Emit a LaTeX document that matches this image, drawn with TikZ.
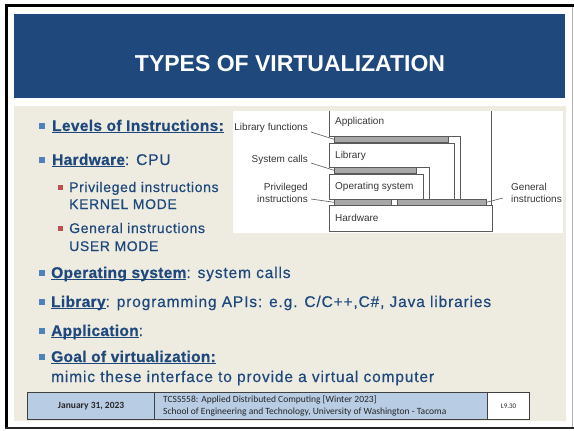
\documentclass[tikz,border=0pt]{standalone}
\usepackage{fontspec}
\setmainfont{Liberation Sans}
\newfontfamily\bodyfont[LetterSpace=5.5, FakeBold=0.5, BoldFeatures={LetterSpace=2, FakeBold=0.6}]{Liberation Sans}
\newfontfamily\subfont[LetterSpace=4.5, FakeBold=0.5]{Liberation Sans}
\newfontfamily\footfont{Carlito}
\usetikzlibrary{calc}

\definecolor{bannerblue}{RGB}{31,73,125}
\definecolor{slidebg}{RGB}{238,236,225}
\definecolor{textblue}{RGB}{31,73,125}
\definecolor{bulletblue}{RGB}{79,129,189}
\definecolor{bulletred}{RGB}{192,80,77}
\definecolor{footblue}{RGB}{184,204,228}
\definecolor{bargray}{RGB}{168,168,168}
\definecolor{figline}{RGB}{90,90,90}
\definecolor{figtext}{RGB}{55,55,55}

\newcommand{\ulhead}[1]{\underline{\smash{\bfseries #1}}}

\begin{document}
\begin{tikzpicture}[x=1pt, y=-1pt, every node/.style={inner sep=0pt},
    mainbullet/.style={fill=bulletblue, minimum size=6pt},
    subbullet/.style={fill=bulletred, minimum size=5pt},
    mainpt/.style={anchor=base west, text=textblue, font=\bodyfont\fontsize{15.5}{18}\selectfont},
    subpt/.style={anchor=base west, text=textblue, font=\subfont\fontsize{14}{17}\selectfont},
    boxline/.style={draw=figline, line width=0.7pt},
    ifacebar/.style={draw=figline, fill=bargray, line width=0.6pt, minimum height=6pt, anchor=north west},
    figlbl/.style={text=figtext, font=\fontsize{10}{11.5}\selectfont},
    leaderline/.style={draw=figline, line width=0.6pt},
    footcell/.style={draw=black!75, line width=1.2pt, minimum height=27pt, anchor=north west}]
    \useasboundingbox (0,0) rectangle (574,431);

    % Slide background and frame
    \fill[white] (0,0) rectangle (574,431);
    \fill[black] (5,4) rectangle (574,7);
    \fill[black] (5,4) rectangle (8,429);
    \fill[black!85] (5,427) rectangle (574,429);
    \fill[black!30] (571.5,7) rectangle (572.5,427);
    \fill[bannerblue] (14,14) rectangle (565,98);
    \fill[slidebg] (14,106) rectangle (566,421);

    % Title
    \node[text=white, font=\bfseries\fontsize{23}{28}\selectfont, anchor=base] (title) at (290,71) {TYPES OF VIRTUALIZATION};

    % Bullets
    \node[mainbullet] (b1) at (41.5,126) {};
    \node[mainpt] (levels) at (52,131) {\ulhead{Levels of Instructions:}};
    \node[mainbullet] (b2) at (41.5,160) {};
    \node[mainpt] (hw) at (52,165) {\ulhead{Hardware}: CPU};
    \node[subbullet] (s1) at (60.5,187.5) {};
    \node[subpt] (priv) at (69,192) {Privileged instructions};
    \node[subpt] (kernel) at (69,209) {KERNEL MODE};
    \node[subbullet] (s2) at (60.5,228.5) {};
    \node[subpt] (gen) at (69,233) {General instructions};
    \node[subpt] (user) at (69,251) {USER MODE};
    \node[mainbullet] (b3) at (41.5,273) {};
    \node[mainpt] (os) at (51,278) {\ulhead{Operating system}: system calls};
    \node[mainbullet] (b4) at (41.5,302) {};
    \node[mainpt] (lib) at (51,307) {\ulhead{Library}: programming APIs: e.g. C/C++,C\#, Java libraries};
    \node[mainbullet] (b5) at (41.5,331) {};
    \node[mainpt] (app) at (51,336) {\ulhead{Application}:};
    \node[mainbullet] (b6) at (41.5,357) {};
    \node[mainpt] (goal) at (51,362) {\ulhead{Goal of virtualization:}};
    \node[mainpt] (mimic) at (51,382) {mimic these interface to provide a virtual computer};

    % Interface figure
    \fill[white] (233,111) rectangle (563,233);
    \draw[boxline] (329,111) -- (329,136) -- (460,136) -- (460,199); % application
    \draw[boxline] (491,111) -- (491,205);
    \draw[boxline] (329,143) -- (454,143) -- (454,199); % library
    \draw[boxline] (329,143) -- (329,167) -- (429,167) -- (429,199);
    \draw[boxline] (329,174) rectangle (423,199); % operating system
    \draw[boxline] (329,205) rectangle (492,231); % hardware

    \node[ifacebar, minimum width=114pt] (libbar) at (334,136) {};
    \node[ifacebar, minimum width=82pt] (sysbar) at (334,167) {};
    \node[ifacebar, minimum width=57pt] (privbar) at (334,199) {};
    \node[ifacebar, minimum width=89pt] (genbar) at (397,199) {};

    \node[figlbl, anchor=west] (applbl) at (335,122) {Application};
    \node[figlbl, anchor=west] (liblbl) at (335,156) {Library};
    \node[figlbl, anchor=west] (oslbl) at (335,187) {Operating system};
    \node[figlbl, anchor=west] (hwlbl) at (335,218) {Hardware};

    \node[figlbl, anchor=east] (lfnlbl) at (308,128) {Library functions};
    \node[figlbl, anchor=east] (calllbl) at (308,160) {System calls};
    \node[figlbl, anchor=east, align=right] (privlbl) at (308,193) {Privileged\\instructions};
    \node[figlbl, anchor=west, align=left] (genlbl) at (511,193) {General\\instructions};
    \draw[leaderline] ([shift={(3,4)}]lfnlbl.east) -- (libbar.west);
    \draw[leaderline] ([shift={(3,3)}]calllbl.east) -- (sysbar.west);
    \draw[leaderline] ([shift={(3,6)}]privlbl.east) -- (privbar.west);
    \draw[leaderline] (genbar.east) -- ([shift={(-8,5)}]genlbl.west);

    % Footer
    \node[footcell, fill=footblue, minimum width=127pt] (fdate) at (27,392) {};
    \node[footcell, fill=footblue, minimum width=333pt] (fcourse) at (154,392) {};
    \node[footcell, fill=white, minimum width=42pt] (fpage) at (487,392) {};
    \node[text=black!85, font=\footfont\bfseries\fontsize{9.5}{11}\selectfont] (datetxt) at (fdate.center) {January 31, 2023};
    \node[text=black!85, font=\footfont\fontsize{9.5}{12.5}\selectfont, anchor=west, align=left] (coursetxt) at (163,406) {TCSS558: Applied Distributed Computing [Winter 2023]\\School of Engineering and Technology, University of Washington - Tacoma};
    \node[text=black!85, font=\footfont\fontsize{7}{8}\selectfont] (pagetxt) at (fpage.center) {L9.30};
\end{tikzpicture}
\end{document}
